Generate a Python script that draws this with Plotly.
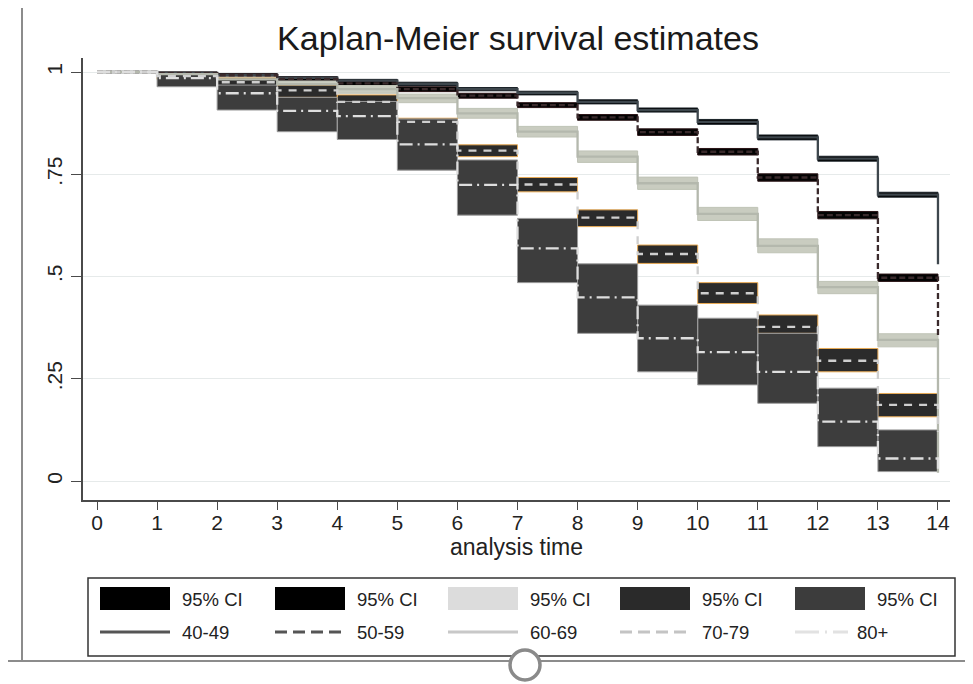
import plotly.graph_objects as go

# ---------------- data ----------------
times = list(range(15))                      # 0 .. 14
ci_starts = list(range(1, 14))               # CI intervals [t, t+1)
groups = ["40-49", "50-59", "60-69", "70-79", "80+"]
ci_label = "95% CI"
title_text = "Kaplan-Meier survival estimates"
x_title = "analysis time"
x_ticks = list(range(15))
y_ticks = [0, 0.25, 0.5, 0.75, 1]
y_ticklabels = ["0", ".25", ".5", ".75", "1"]

surv_4049 = [1.0, 0.998, 0.993, 0.986, 0.979, 0.971, 0.958, 0.949, 0.927, 0.907, 0.878, 0.840, 0.788, 0.700, 0.530]
surv_5059 = [1.0, 0.997, 0.992, 0.983, 0.972, 0.958, 0.942, 0.919, 0.889, 0.853, 0.805, 0.742, 0.650, 0.497, 0.350]
surv_6069 = [1.0, 0.995, 0.982, 0.970, 0.958, 0.936, 0.899, 0.854, 0.793, 0.728, 0.653, 0.575, 0.474, 0.345, 0.020]
surv_7079 = [1.0, 0.990, 0.975, 0.955, 0.927, 0.878, 0.808, 0.725, 0.644, 0.555, 0.459, 0.377, 0.294, 0.186, 0.120]
surv_80 = [1.0, 0.985, 0.948, 0.905, 0.892, 0.823, 0.724, 0.569, 0.449, 0.349, 0.315, 0.267, 0.145, 0.055, 0.030]

lo_4049 = [0.995, 0.990, 0.983, 0.975, 0.967, 0.954, 0.944, 0.922, 0.902, 0.872, 0.834, 0.782, 0.694]
hi_4049 = [1.000, 0.996, 0.989, 0.982, 0.975, 0.962, 0.953, 0.932, 0.912, 0.884, 0.846, 0.794, 0.706]
lo_5059 = [0.994, 0.988, 0.978, 0.967, 0.952, 0.936, 0.913, 0.882, 0.845, 0.797, 0.733, 0.641, 0.488]
hi_5059 = [1.000, 0.996, 0.988, 0.977, 0.964, 0.948, 0.925, 0.896, 0.861, 0.813, 0.751, 0.659, 0.506]
lo_6069 = [0.990, 0.975, 0.962, 0.948, 0.925, 0.887, 0.841, 0.779, 0.713, 0.637, 0.558, 0.458, 0.328]
hi_6069 = [0.999, 0.988, 0.978, 0.967, 0.946, 0.911, 0.867, 0.807, 0.743, 0.669, 0.592, 0.488, 0.360]
lo_7079 = [0.982, 0.962, 0.938, 0.906, 0.866, 0.793, 0.707, 0.622, 0.532, 0.434, 0.361, 0.267, 0.157]
hi_7079 = [0.996, 0.985, 0.968, 0.944, 0.887, 0.822, 0.742, 0.663, 0.577, 0.485, 0.406, 0.324, 0.214]
lo_80 = [0.964, 0.907, 0.854, 0.835, 0.760, 0.650, 0.485, 0.361, 0.267, 0.235, 0.190, 0.084, 0.023]
hi_80 = [0.997, 0.968, 0.938, 0.928, 0.885, 0.785, 0.642, 0.531, 0.430, 0.398, 0.361, 0.227, 0.125]

survs = [surv_4049, surv_5059, surv_6069, surv_7079, surv_80]
los = [lo_4049, lo_5059, lo_6069, lo_7079, lo_80]
his = [hi_4049, hi_5059, hi_6069, hi_7079, hi_80]

# ---------------- styles ----------------
ci_fill = ["#000000", "#030303", "#c9ccc0", "#2b2b2b", "#3d3d3d"]
ci_edge = ["#1a2228", "#2a1416", "#bfc3b6", "#e8aa55", "#9c9c9c"]
line_col = ["#3e474d", "#3a2a2c", "#b4b8ad", "#cfcfcf", "#dedede"]
line_dash = ["solid", "6px,3px", "solid", "8px,7px", "13px,5px,2px,5px"]
leg_swatch = ["#000000", "#000000", "#dcdcdc", "#2a2a2a", "#3c3c3c"]
leg_line = ["#555555", "#555555", "#c8c8c8", "#c4c4c4", "#e2e2e2"]
leg_dash = ["solid", "12px,6px", "solid", "12px,6px", "24px,6px,2px,6px"]
FONT = "Liberation Sans, Arial, sans-serif"

W, H = 973, 684
OFF = 8   # page body margin: figure is drawn 8px right/down in the window
# plot area in screen pixels: x 83..950, y 58..500
L, R, T, B = 83 - OFF, W - (950 - OFF), 58 - OFF, H - (500 - OFF)
PW, PH = W - L - R, H - T - B


def px2x(px):
    return (px - OFF - L) / PW


def py2y(py):
    return (H - B - (py - OFF)) / PH


fig = go.Figure()

# CI boxes
for g in range(5):
    xs, ys = [], []
    for i, t in enumerate(ci_starts):
        xs += [t, t + 1, t + 1, t, t, None]
        ys += [his[g][i], his[g][i], los[g][i], los[g][i], his[g][i], None]
    fig.add_trace(go.Scatter(
        x=xs, y=ys, mode="lines", fill="toself",
        fillcolor=ci_fill[g], line=dict(color=ci_edge[g], width=1),
        hoverinfo="skip", showlegend=False))

# survival step lines
for g in range(5):
    fig.add_trace(go.Scatter(
        x=times, y=survs[g], mode="lines", line_shape="hv",
        line=dict(color=line_col[g], width=2.3, dash=line_dash[g]),
        name=groups[g], showlegend=False))

# ---------------- legend (drawn in margin) ----------------
shapes = []
annotations = []
shapes.append(dict(type="rect", xref="paper", yref="paper",
                   x0=px2x(88), x1=px2x(955), y0=py2y(656), y1=py2y(578),
                   line=dict(color="#333333", width=1.5), fillcolor="rgba(0,0,0,0)"))
col_x = [100, 275, 448, 620, 795]
key_end = [170, 345, 518, 690, 848]
lab_x = [180, 355, 528, 700, 855]
for g in range(5):
    cx = col_x[g]
    shapes.append(dict(type="rect", xref="paper", yref="paper",
                       x0=px2x(cx), x1=px2x(cx + 70), y0=py2y(610), y1=py2y(587),
                       line=dict(width=0), fillcolor=leg_swatch[g]))
    shapes.append(dict(type="line", xref="paper", yref="paper",
                       x0=px2x(cx), x1=px2x(key_end[g]), y0=py2y(632), y1=py2y(632),
                       line=dict(color=leg_line[g], width=3, dash=leg_dash[g])))
    annotations.append(dict(text=ci_label, xref="paper", yref="paper",
                            x=px2x(cx + 80), y=py2y(599), xanchor="left", yanchor="middle",
                            showarrow=False, font=dict(family=FONT, size=18.5, color="#222222")))
    annotations.append(dict(text=groups[g], xref="paper", yref="paper",
                            x=px2x(lab_x[g]), y=py2y(632), xanchor="left", yanchor="middle",
                            showarrow=False, font=dict(family=FONT, size=18.5, color="#222222")))

# screenshot frame elements
shapes.append(dict(type="line", xref="paper", yref="paper",
                   x0=px2x(22), x1=px2x(22), y0=py2y(661), y1=py2y(OFF),
                   line=dict(color="#8c8c8c", width=2)))
shapes.append(dict(type="line", xref="paper", yref="paper",
                   x0=px2x(OFF), x1=px2x(W), y0=py2y(661), y1=py2y(661),
                   line=dict(color="#8c8c8c", width=2)))
shapes.append(dict(type="circle", xref="paper", yref="paper",
                   x0=px2x(510), x1=px2x(540), y0=py2y(680), y1=py2y(650),
                   line=dict(color="#8a8a8a", width=3.5), fillcolor="white"))

x_lo = -14 / 60.07
x_hi = x_lo + PW / 60.07
y_hi = 1 + 14 / 409
y_lo = y_hi - PH / 409

fig.update_layout(
    width=W, height=H,
    margin=dict(l=L, r=R, t=T, b=B, pad=0),
    paper_bgcolor="white", plot_bgcolor="white",
    title=dict(text=title_text, x=(518 - OFF) / W, xref="container", xanchor="center",
               y=1 - (38 - OFF) / H, yref="container", yanchor="middle",
               font=dict(family=FONT, size=34, color="#1a1a1a")),
    xaxis=dict(range=[x_lo, x_hi], tickmode="array", tickvals=x_ticks,
               ticktext=[str(v) for v in x_ticks],
               showgrid=False, zeroline=False, showline=True,
               linecolor="#4a4a4a", linewidth=1.5, ticks="outside",
               ticklen=8, tickcolor="#4a4a4a", tickwidth=1.3,
               tickfont=dict(family=FONT, size=21, color="#222222"),
               ticklabelstandoff=-5,
               title=dict(text=x_title, standoff=4,
                          font=dict(family=FONT, size=23, color="#222222"))),
    yaxis=dict(range=[y_lo, y_hi], tickmode="array", tickvals=y_ticks,
               ticktext=y_ticklabels, tickangle=-90,
               showgrid=True, gridcolor="#e6eaea", gridwidth=1,
               zeroline=False, showline=True,
               linecolor="#4a4a4a", linewidth=1.5, ticks="outside",
               ticklen=10, tickcolor="#4a4a4a", tickwidth=1.3,
               tickfont=dict(family=FONT, size=21, color="#222222"),
               ticklabelstandoff=1),
    shapes=shapes,
    annotations=annotations,
    showlegend=False,
)

fig.write_html("out.html")
